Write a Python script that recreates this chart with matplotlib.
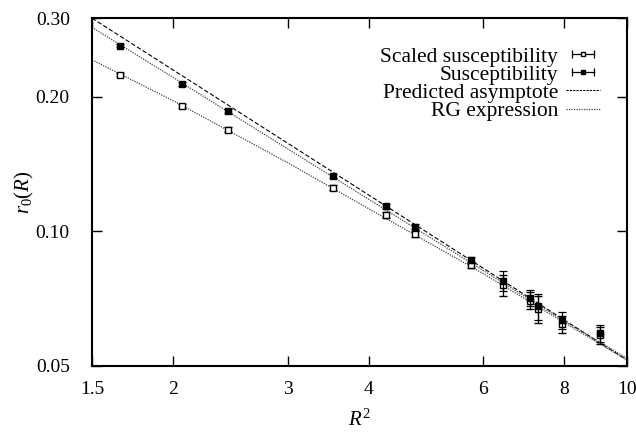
import matplotlib
matplotlib.use("Agg")
from matplotlib import pyplot as plt
from matplotlib import ticker as tick
from matplotlib.lines import Line2D
from matplotlib.legend_handler import HandlerLine2D, HandlerTuple

plt.rcParams['font.family'] = ['Liberation Serif', 'DejaVu Serif']
plt.rcParams['mathtext.fontset'] = 'custom'
plt.rcParams['mathtext.rm'] = 'Liberation Serif'
plt.rcParams['mathtext.it'] = 'Liberation Serif:italic'
plt.rcParams['font.size'] = 14

# R^2 values of the measured points
r2 = [1.656, 2.066, 2.43, 3.52, 4.25, 4.72, 5.74, 6.44, 7.08, 7.29, 7.95, 9.09]
# susceptibility (filled squares)
r0_sus = [0.2600, 0.2134, 0.1856, 0.1329, 0.1138, 0.1025, 0.0863, 0.0775, 0.0711, 0.0680, 0.0633, 0.0591]
err_sus = [0.002, 0.002, 0.002, 0.0015, 0.0015, 0.0015, 0.0015, 0.0040, 0.0030, 0.0045, 0.0028, 0.0025]
# scaled susceptibility (open squares)
r0_scaled = [0.2243, 0.1907, 0.1688, 0.1253, 0.1089, 0.0986, 0.0841, 0.0757, 0.0700, 0.0670, 0.0620, 0.0585]
err_scaled = [0.002, 0.002, 0.002, 0.0015, 0.0015, 0.0015, 0.0015, 0.0040, 0.0030, 0.0045, 0.0028, 0.0025]

# curves
asym_x = [1.5, 10]
asym_y = [0.300, 0.0515]
rg_x = [1.5, 2, 3, 4, 6, 8, 10]
rg_upper = [0.286, 0.221, 0.153, 0.118, 0.0818, 0.0630, 0.052]
rg_lower = [0.242, 0.196, 0.1425, 0.1124, 0.0805, 0.0625, 0.0515]

xticks = [1.5, 2, 3, 4, 6, 8, 10]
yticks = [0.05, 0.10, 0.20, 0.30]

fig = plt.figure(figsize=(6.36, 4.32), dpi=100)
ax = fig.add_axes([0.1447, 0.153, 0.8413, 0.805])
ax.set_xscale('log')
ax.set_yscale('log')

ax.plot(asym_x, asym_y, color='black', ls=(0, (4, 2)), lw=0.8)
ax.plot(rg_x, rg_upper, color='#444444', ls=(0, (1, 1)), lw=0.9)
ax.plot(rg_x, rg_lower, color='#444444', ls=(0, (1, 1)), lw=0.9)

ax.errorbar(r2, r0_scaled, yerr=err_scaled, fmt='s', ms=5, mfc='white', mec='black',
            mew=1.0, ecolor='black', elinewidth=0.9, capsize=3, capthick=0.9, zorder=3)
ax.errorbar(r2, r0_sus, yerr=err_sus, fmt='s', ms=5, mfc='black', mec='black',
            ecolor='black', elinewidth=0.9, capsize=3, capthick=0.9, zorder=4)

ax.set_xlim(1.5, 10)
ax.set_ylim(0.05, 0.30)
ax.xaxis.set_major_locator(tick.FixedLocator(xticks))
ax.xaxis.set_major_formatter(tick.FixedFormatter(['1.5', '2', '3', '4', '6', '8', '10']))
ax.xaxis.set_minor_locator(tick.NullLocator())
ax.yaxis.set_major_locator(tick.FixedLocator(yticks))
ax.yaxis.set_major_formatter(tick.FixedFormatter(['0.05', '0.10', '0.20', '0.30']))
ax.yaxis.set_minor_locator(tick.NullLocator())
ax.tick_params(which='both', direction='in', top=True, right=True, length=7, width=1.0)
ax.tick_params(axis='x', pad=11)
ax.tick_params(axis='y', pad=16)
for s in ax.spines.values():
    s.set_linewidth(1.5)

ax.set_xlabel('$R^2$', labelpad=8, fontsize=15)
ax.set_ylabel('$r_0(R)$', labelpad=0, fontsize=15)

# gnuplot-style key samples: horizontal bar with end caps and a marker in the middle
bar1 = Line2D([], [], color='black', lw=0.9, marker='|', ms=6, mew=0.9)
sq1 = Line2D([], [], ls='none', marker='s', ms=3.5, mfc='white', mec='black', mew=1.0)
bar2 = Line2D([], [], color='black', lw=0.9, marker='|', ms=6, mew=0.9)
sq2 = Line2D([], [], ls='none', marker='s', ms=3.5, mfc='black', mec='black')
asym_h = Line2D([], [], color='black', ls=(0, (2, 1)), lw=0.8)
rg_h = Line2D([], [], color='#444444', ls=(0, (1, 1)), lw=0.9)
hmap = {bar1: HandlerLine2D(numpoints=2), bar2: HandlerLine2D(numpoints=2),
        sq1: HandlerLine2D(numpoints=1), sq2: HandlerLine2D(numpoints=1),
        tuple: HandlerTuple(ndivide=1)}
leg = ax.legend([(bar1, sq1), (bar2, sq2), asym_h, rg_h],
                ['Scaled susceptibility', 'Susceptibility', 'Predicted asymptote', 'RG expression'],
                handler_map=hmap, markerfirst=False, frameon=False, loc='upper right',
                bbox_to_anchor=(0.9495, 0.918), handlelength=1.6, handletextpad=0.35,
                labelspacing=-0.09, fontsize=15.5, borderpad=0, borderaxespad=0)

plt.savefig('out.png', dpi=100)
